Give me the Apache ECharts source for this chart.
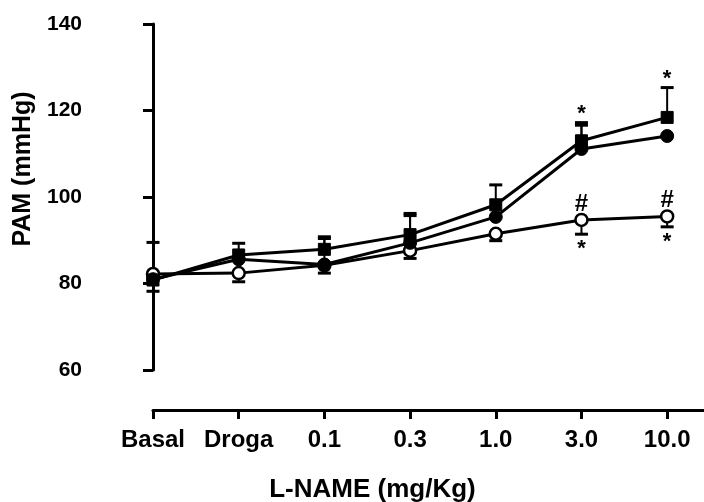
<!DOCTYPE html>
<html>
<head>
<meta charset="utf-8">
<script src="https://cdn.jsdelivr.net/npm/echarts@6/dist/echarts.min.js"></script>
<style>
  html, body { margin: 0; padding: 0; background: #fff; }
  #chart { width: 704px; height: 502px; }
</style>
</head>
<body>
<div id="chart"></div>
<script>
// Dose axis categories
const categories = ['Basal', 'Droga', '0.1', '0.3', '1.0', '3.0', '10.0'];

// Filled squares
const squareMean    = [80.8, 86.6, 87.9, 91.3, 98.2, 113.0, 118.4];
const squareErrUp   = [0, 2.7, 2.9, 4.9, 4.6, 4.2, 6.9];
const squareErrDown = [2.6, 0, 0, 0, 0, 0, 0];

// Filled circles
const circleMean    = [81.0, 85.6, 84.4, 89.4, 95.4, 111.1, 114.1];
const circleErrUp   = [0, 0, 6.0, 6.3, 0, 5.5, 0];
const circleErrDown = [0, 0, 0, 0, 0, 0, 0];

// Open circles
const openMean    = [82.2, 82.4, 84.2, 87.6, 91.5, 94.7, 95.5];
const openErrUp   = [7.3, 0, 0, 0, 0, 0, 0];
const openErrDown = [0, 2.0, 1.8, 1.8, 1.6, 3.3, 2.4];

// Significance marks: which group, which dose, text, and where it sits
const significance = [
  { group: 'square', dose: 5, text: '*', side: 'above' },
  { group: 'square', dose: 6, text: '*', side: 'above' },
  { group: 'open',   dose: 5, text: '#', side: 'above' },
  { group: 'open',   dose: 6, text: '#', side: 'above' },
  { group: 'open',   dose: 5, text: '*', side: 'below' },
  { group: 'open',   dose: 6, text: '*', side: 'below' }
];

// Y axis ticks
const yMin = 60, yMax = 140, yStep = 20;

const groups = {
  square: { mean: squareMean, up: squareErrUp, down: squareErrDown },
  circle: { mean: circleMean, up: circleErrUp, down: circleErrDown },
  open:   { mean: openMean,   up: openErrUp,   down: openErrDown }
};

const FONT = '"Liberation Sans", Arial, Helvetica, sans-serif';
const doseIdx = categories.map((c, i) => i);

function pairs(vals) { return vals.map((v, i) => [i, v]); }
function errData(g) { return g.mean.map((m, i) => [i, m, g.up[i], g.down[i]]); }

function errorBarItem(params, api) {
  const x = api.value(0), m = api.value(1), up = api.value(2), dn = api.value(3);
  const c = api.coord([x, m]);
  const children = [];
  const capHalf = 6.5;
  const stem = { stroke: '#000', lineWidth: 2 };
  const cap = { stroke: '#000', lineWidth: 3 };
  if (up > 0) {
    const t = api.coord([x, m + up]);
    children.push({ type: 'line', shape: { x1: c[0], y1: c[1], x2: t[0], y2: t[1] }, style: stem });
    children.push({ type: 'line', shape: { x1: t[0] - capHalf, y1: t[1], x2: t[0] + capHalf, y2: t[1] }, style: cap });
  }
  if (dn > 0) {
    const b = api.coord([x, m - dn]);
    children.push({ type: 'line', shape: { x1: c[0], y1: c[1], x2: b[0], y2: b[1] }, style: stem });
    children.push({ type: 'line', shape: { x1: b[0] - capHalf, y1: b[1], x2: b[0] + capHalf, y2: b[1] }, style: cap });
  }
  return { type: 'group', children };
}

// Significance marks anchored at the error-bar end (or the point itself)
const sigData = significance.map(s => {
  const g = groups[s.group];
  let anchor, gap;
  if (s.text === '#') { anchor = g.mean[s.dose]; gap = -16; }
  else if (s.side === 'above') { anchor = g.mean[s.dose] + g.up[s.dose]; gap = -9; }
  else { anchor = g.mean[s.dose] - g.down[s.dose]; gap = 15; }
  return [s.dose, anchor, s.text, gap];
});

function sigItem(params, api) {
  const c = api.coord([api.value(0), api.value(1)]);
  const txt = sigData[params.dataIndex][2];
  const gap = sigData[params.dataIndex][3];
  return {
    type: 'text',
    style: {
      x: c[0], y: c[1] + gap,
      text: txt,
      fill: '#000',
      font: 'bold ' + (txt === '#' ? 24 : 22) + 'px ' + FONT,
      align: 'center',
      verticalAlign: 'middle'
    }
  };
}

const lineCommon = {
  type: 'line',
  lineStyle: { color: '#000', width: 3 },
  itemStyle: { color: '#000', borderColor: '#000' },
  symbolSize: 12,
  clip: false,
  silent: true,
  animation: false
};

const chart = echarts.init(document.getElementById('chart'), null, { renderer: 'canvas' });
chart.setOption({
  backgroundColor: '#fff',
  animation: false,
  grid: { left: 153, right: 0, top: 24, bottom: 132, containLabel: false, outerBoundsMode: 'none' },
  xAxis: {
    type: 'value',
    min: 0,
    max: 6.43,
    offset: 40,
    splitLine: { show: false },
    axisLine: { show: true, lineStyle: { color: '#000', width: 3 } },
    axisTick: { show: true, customValues: doseIdx, length: 9, lineStyle: { color: '#000', width: 3 } },
    axisLabel: {
      customValues: doseIdx,
      formatter: v => categories[Math.round(v)],
      color: '#000', fontFamily: FONT, fontWeight: 'bold', fontSize: 24, margin: 18
    },
    name: 'L-NAME (mg/Kg)',
    nameLocation: 'middle',
    nameGap: 67,
    nameTextStyle: { color: '#000', fontFamily: FONT, fontWeight: 'bold', fontSize: 26, padding: [0, 112, 0, 0] }
  },
  yAxis: {
    type: 'value',
    min: yMin,
    max: yMax,
    interval: yStep,
    offset: 40,
    splitLine: { show: false },
    axisLine: { show: true, lineStyle: { color: '#000', width: 3 } },
    axisTick: { show: true, length: 10, lineStyle: { color: '#000', width: 3 } },
    axisLabel: { color: '#000', fontFamily: FONT, fontWeight: 'bold', fontSize: 21, margin: 31 },
    name: 'PAM (mmHg)',
    nameLocation: 'middle',
    nameGap: 72,
    nameRotate: 90,
    nameTextStyle: { color: '#000', fontFamily: FONT, fontWeight: 'bold', fontSize: 25, padding: [0, 0, 0, 56] }
  },
  series: [
    { type: 'custom', renderItem: errorBarItem, data: errData(groups.square), z: 1, silent: true, clip: false },
    { type: 'custom', renderItem: errorBarItem, data: errData(groups.circle), z: 1, silent: true, clip: false },
    { type: 'custom', renderItem: errorBarItem, data: errData(groups.open), z: 1, silent: true, clip: false },
    Object.assign({}, lineCommon, { name: 'open', data: pairs(openMean), symbol: 'circle', symbolSize: 12,
      itemStyle: { color: '#fff', borderColor: '#000', borderWidth: 2.5 }, z: 3 }),
    Object.assign({}, lineCommon, { name: 'circle', data: pairs(circleMean), symbol: 'circle', symbolSize: 13, z: 4 }),
    Object.assign({}, lineCommon, { name: 'square', data: pairs(squareMean), symbol: 'rect', symbolSize: 12, z: 5 }),
    { type: 'custom', renderItem: sigItem, data: sigData.map(d => [d[0], d[1]]), z: 6, silent: true, clip: false }
  ]
});
</script>
</body>
</html>
